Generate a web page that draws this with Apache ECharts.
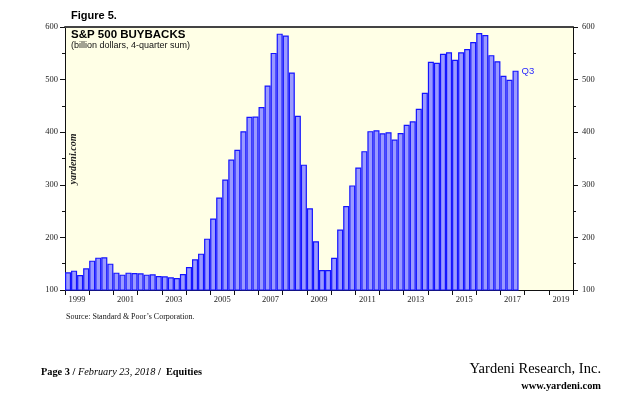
<!DOCTYPE html>
<html>
<head>
<meta charset="utf-8">
<script src="https://cdn.jsdelivr.net/npm/echarts@6/dist/echarts.min.js"></script>
<style>
html,body{margin:0;padding:0;background:#fff;}
#chart{width:640px;height:399px;}
</style>
</head>
<body>
<div id="chart"></div>
<script>
// Year labels on the x axis (each year has four quarters)
const years = ['1999','2000','2001','2002','2003','2004','2005','2006','2007','2008',
               '2009','2010','2011','2012','2013','2014','2015','2016','2017','2018','2019'];
const quarterNames = ['Q1','Q2','Q3','Q4'];

// S&P 500 buybacks, billion dollars, 4-quarter sum, 1999Q1 .. 2017Q3
const buybacks = [
  133.6, 136.8, 128.5, 141.2,   // 1999
  155.8, 161.5, 162.1, 150.1,   // 2000
  133.0, 129.2, 133.0, 132.3,   // 2001
  131.7, 129.2, 129.8, 126.6,   // 2002
  126.0, 124.1, 122.8, 130.4,   // 2003
  143.7, 158.3, 169.1, 197.6,   // 2004
  236.0, 275.8, 310.2, 348.0,   // 2005
  366.5, 401.8, 429.5, 429.8,   // 2006
  447.9, 488.9, 550.8, 587.4,   // 2007
  583.8, 513.5, 431.4, 338.3,   // 2008
  255.3, 192.8, 137.9, 137.9,   // 2009
  161.2, 214.9, 259.7, 298.9,   // 2010
  333.0, 364.0, 402.0, 403.7,   // 2011
  398.0, 400.0, 386.0, 398.5,   // 2012
  414.0, 420.7, 444.7, 475.0,   // 2013
  534.0, 532.0, 549.0, 552.0,   // 2014
  537.7, 552.0, 558.0, 571.5,   // 2015
  588.5, 584.7, 546.5, 535.0,   // 2016
  507.4, 499.8, 517.0           // 2017
];
const lastLabel = 'Q3';

const yMin = 100, yMax = 600, yStep = 100;

// quarterly categories built from the year list
const quarters = [];
years.forEach(y => quarterNames.forEach(q => quarters.push(y + q)));

const barData = quarters.map((q, i) => {
  if (i >= buybacks.length) return null;
  if (i === buybacks.length - 1) {
    return {
      value: buybacks[i],
      label: {
        show: true, formatter: lastLabel, position: ['100%', 0],
        align: 'left', verticalAlign: 'middle', offset: [3, 1],
        color: '#2a2aff', fontSize: 9.5, fontFamily: 'Liberation Sans'
      }
    };
  }
  return buybacks[i];
});

const serif = 'Liberation Serif';
const sans = 'Liberation Sans';

const chart = echarts.init(document.getElementById('chart'), null, {renderer: 'canvas'});

const yAxisCommon = {
  type: 'value', min: yMin, max: yMax, interval: yStep,
  splitLine: {show: false},
  axisLine: {show: true, lineStyle: {color: '#111', width: 1}},
  axisTick: {show: true, length: 5, lineStyle: {color: '#111'}},
  minorTick: {show: true, splitNumber: 2, length: 3, lineStyle: {color: '#111'}},
  axisLabel: {fontFamily: serif, fontSize: 8.5, color: '#222', margin: 7}
};

chart.setOption({
  animation: false,
  backgroundColor: '#ffffff',
  grid: {
    left: 65, right: 67, top: 27, bottom: 109,
    show: true, backgroundColor: '#ffffe6', borderWidth: 0
  },
  xAxis: [
    {
      type: 'category', data: quarters, position: 'bottom',
      boundaryGap: true,
      axisLine: {show: true, lineStyle: {color: '#111', width: 1}},
      axisTick: {show: false}, axisLabel: {show: false}
    },
    {
      type: 'category', data: years, position: 'bottom',
      boundaryGap: true,
      axisLine: {show: false},
      axisTick: {show: true, length: 5, interval: 0, lineStyle: {color: '#111'}},
      axisLabel: {show: true, interval: 1, fontFamily: serif, fontSize: 8.5, color: '#222', margin: 5}
    },
    {
      type: 'category', data: years, position: 'top',
      axisLine: {show: true, lineStyle: {color: '#444', width: 2}},
      axisTick: {show: false}, axisLabel: {show: false}
    }
  ],
  yAxis: [
    Object.assign({position: 'left'}, yAxisCommon),
    Object.assign({position: 'right'}, yAxisCommon,
      {axisLabel: Object.assign({}, yAxisCommon.axisLabel, {margin: 9})})
  ],
  series: [{
    type: 'bar',
    xAxisIndex: 0, yAxisIndex: 0,
    data: barData,
    barCategoryGap: '0%',
    itemStyle: {color: '#9a9aff', borderColor: '#1414ff', borderWidth: 1.2},
    emphasis: {disabled: true}
  }],
  graphic: [
    {type: 'text', left: 71, top: 10,
     style: {text: 'Figure 5.', font: 'bold 11px "Liberation Sans"', fill: '#000'}},
    {type: 'text', left: 71, top: 29,
     style: {text: 'S&P 500 BUYBACKS', font: 'bold 11.5px "Liberation Sans"', fill: '#000'}},
    {type: 'text', left: 71, top: 41,
     style: {text: '(billion dollars, 4-quarter sum)', font: '9px "Liberation Sans"', fill: '#111'}},
    {type: 'text', x: 73, y: 159, rotation: Math.PI / 2,
     style: {text: 'yardeni.com', font: 'italic bold 10px "Liberation Serif"', fill: '#222',
             align: 'center', verticalAlign: 'middle'}},
    {type: 'text', left: 66, top: 313,
     style: {text: 'Source: Standard & Poor\u2019s Corporation.', font: '8px "Liberation Serif"', fill: '#111'}},
    {type: 'text', left: 41, top: 367,
     style: {
       text: '{b|Page 3 / }{i|February 23, 2018}{b| /  Equities}',
       rich: {
         b: {fontFamily: serif, fontWeight: 'bold', fontSize: 10.3, fill: '#000'},
         i: {fontFamily: serif, fontStyle: 'italic', fontSize: 10.3, fill: '#000'}
       }
     }},
    {type: 'text', right: 39, top: 362,
     style: {text: 'Yardeni Research, Inc.', font: '14.5px "Liberation Serif"', fill: '#000'}},
    {type: 'text', right: 39, top: 381,
     style: {text: 'www.yardeni.com', font: 'bold 10.4px "Liberation Serif"', fill: '#000'}}
  ]
});
</script>
</body>
</html>
